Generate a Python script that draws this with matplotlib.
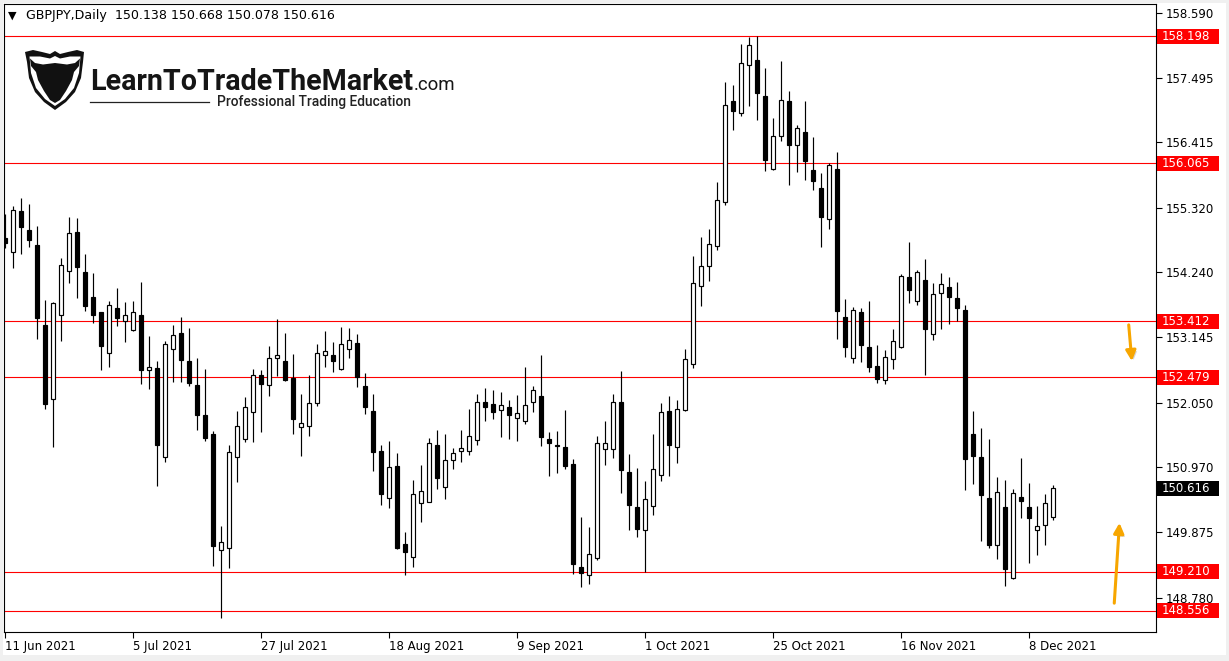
import matplotlib
matplotlib.use('Agg')
import matplotlib.pyplot as plt
from matplotlib.patches import Rectangle, Polygon, FancyArrowPatch
import matplotlib.patheffects as pe
import numpy as np

W, H, DPI = 1229, 661, 100

symbol = 'GBPJPY,Daily'
last_ohlc = [150.138, 150.668, 150.078, 150.616]

opens = [154.805, 154.571, 155.263, 154.945, 154.693, 153.351, 152.105, 153.514, 154.252, 154.906,
         154.240, 153.816, 153.564, 152.877, 153.637, 153.414, 153.263, 153.514, 152.592, 152.625,
         151.133, 152.944, 153.212, 152.743, 152.340, 151.837, 151.518, 149.573, 149.607, 151.133,
         151.435, 151.887, 152.508, 152.340, 152.803, 152.743, 152.463, 151.636, 151.653, 152.038,
         152.843, 152.843, 152.609, 152.944, 153.045, 152.328, 151.909, 151.238, 150.455, 150.987,
         149.674, 149.466, 150.361, 150.388, 151.334, 150.630, 151.082, 151.233, 151.233, 151.418,
         152.055, 152.022, 151.921, 151.971, 151.787, 151.737, 152.055, 152.156, 151.435, 151.334,
         151.300, 151.015, 149.288, 149.154, 149.439, 151.267, 151.267, 152.055, 150.881, 150.294,
         149.909, 150.311, 150.831, 151.904, 151.300, 151.921, 152.692, 154.000, 154.336, 154.671,
         155.409, 157.103, 156.902, 157.707, 157.790, 157.187, 155.973, 156.516, 157.103, 156.365,
         156.583, 155.946, 155.644, 155.124, 155.963, 153.481, 152.793, 153.564, 152.982, 152.664,
         152.434, 152.776, 152.978, 154.151, 153.749, 154.101, 153.195, 153.883, 153.984, 153.799,
         153.598, 151.518, 151.133, 150.445, 149.657, 150.294, 149.104, 150.462, 150.294, 149.909,
         149.992, 150.138]
highs = [155.213, 155.352, 155.481, 155.381, 155.012, 153.771, 153.732, 154.470, 155.158, 155.141,
         154.542, 154.224, 153.570, 153.749, 153.972, 153.737, 153.754, 154.073, 153.167, 152.748,
         153.083, 153.351, 153.481, 153.296, 152.793, 152.609, 151.574, 149.981, 151.334, 151.904,
         152.149, 152.609, 152.592, 152.994, 153.447, 153.212, 152.860, 152.189, 152.508, 153.028,
         153.246, 153.061, 153.313, 153.296, 153.200, 152.541, 152.194, 151.339, 151.406, 151.205,
         149.880, 150.752, 151.004, 151.456, 151.591, 151.524, 151.284, 151.591, 151.938, 152.189,
         152.290, 152.256, 152.223, 152.089, 152.178, 152.647, 152.328, 152.848, 151.552, 151.569,
         151.921, 151.099, 150.127, 149.959, 151.485, 151.737, 152.189, 152.575, 151.183, 150.948,
         150.730, 151.518, 152.038, 152.156, 152.089, 152.944, 154.504, 154.822, 154.956, 155.745,
         157.422, 157.371, 158.059, 158.181, 158.198, 157.656, 156.818, 157.774, 157.271, 156.700,
         157.103, 156.499, 155.896, 156.063, 156.248, 153.782, 153.648, 153.632, 153.754, 153.016,
         152.932, 153.284, 154.202, 154.738, 154.269, 154.453, 154.051, 154.218, 154.151, 154.068,
         153.682, 151.904, 151.619, 151.435, 150.797, 150.747, 150.596, 151.116, 150.697, 150.311,
         150.512, 150.668]
lows = [154.643, 154.312, 154.537, 154.665, 153.122, 151.948, 151.310, 153.088, 154.061, 153.809,
        153.591, 153.380, 152.602, 152.652, 153.340, 153.071, 153.250, 152.357, 152.283, 150.657,
        151.059, 152.401, 152.401, 152.334, 151.596, 151.411, 149.315, 148.443, 149.281, 150.724,
        151.394, 151.394, 151.562, 152.166, 152.496, 152.417, 151.529, 151.160, 151.495, 151.998,
        152.652, 152.568, 152.590, 152.803, 152.317, 151.864, 150.908, 150.338, 150.288, 149.590,
        149.164, 149.293, 150.053, 150.375, 150.606, 150.439, 150.942, 151.059, 151.176, 151.344,
        151.747, 151.780, 151.478, 151.445, 151.411, 151.696, 151.887, 151.317, 150.814, 150.864,
        150.932, 149.171, 148.953, 149.003, 149.406, 150.999, 151.116, 150.529, 149.909, 149.791,
        149.204, 150.160, 150.730, 150.814, 151.032, 151.905, 152.625, 153.675, 154.094, 154.604,
        155.359, 156.617, 156.851, 157.019, 156.784, 155.929, 155.956, 156.432, 155.694, 155.912,
        155.778, 155.610, 154.654, 154.956, 153.112, 152.810, 152.709, 152.739, 152.568, 152.384,
        152.367, 152.618, 152.965, 153.725, 153.692, 152.518, 153.095, 153.279, 153.363, 153.414,
        150.579, 150.680, 149.724, 149.607, 149.422, 148.969, 149.090, 150.110, 149.355, 149.489,
        149.657, 150.078]
closes = [154.732, 155.280, 155.000, 154.782, 153.474, 152.032, 153.715, 154.353, 154.889, 154.329,
          153.675, 153.524, 153.004, 153.682, 153.474, 153.514, 153.564, 152.602, 152.642, 151.344,
          153.028, 153.179, 152.770, 152.384, 151.847, 151.462, 149.650, 149.707, 151.217, 151.653,
          151.971, 152.508, 152.357, 152.793, 152.843, 152.434, 151.780, 151.703, 152.038, 152.877,
          152.910, 152.753, 153.028, 153.095, 152.474, 151.981, 151.227, 150.522, 150.970, 149.612,
          149.550, 150.512, 150.563, 151.368, 150.791, 151.082, 151.200, 151.284, 151.485, 152.055,
          151.981, 151.898, 152.005, 151.837, 151.871, 152.005, 152.256, 151.468, 151.368, 151.317,
          150.982, 149.338, 149.188, 149.506, 151.368, 151.368, 152.055, 150.915, 150.328, 149.925,
          150.428, 150.932, 151.887, 151.334, 151.938, 152.776, 154.051, 154.336, 154.705, 155.443,
          157.036, 156.935, 157.740, 158.042, 157.237, 156.124, 156.516, 157.120, 156.365, 156.650,
          156.097, 155.761, 155.158, 156.030, 153.581, 152.978, 153.598, 153.021, 152.652, 152.451,
          152.810, 153.078, 154.168, 153.943, 154.235, 153.279, 153.866, 154.034, 153.816, 153.632,
          151.109, 151.160, 150.496, 149.657, 150.546, 149.254, 150.529, 150.395, 150.110, 149.976,
          150.361, 150.616]

date_labels = ['11 Jun 2021', '5 Jul 2021', '27 Jul 2021', '18 Aug 2021', '9 Sep 2021',
               '1 Oct 2021', '25 Oct 2021', '16 Nov 2021', '8 Dec 2021']
date_label_bar = [0, 16, 32, 48, 64, 80, 96, 112, 128]
price_ticks = [158.590, 157.495, 156.415, 155.320, 154.240, 153.145, 152.050, 150.970, 149.875, 148.780]
level_lines = [158.198, 156.065, 153.412, 152.479, 149.210, 148.556]
current_price = 150.616

# ---------------------------------------------------------------- figure
fig = plt.figure(figsize=(W / DPI, H / DPI), dpi=DPI)
fig.patch.set_facecolor('white')

PL, PR, PT, PB = 4, 1156, 4, 632
ax = fig.add_axes([PL / W, 1 - PB / H, (PR - PL) / W, (PB - PT) / H])
ax.set_facecolor('white')
ax.set_xlim(-0.16, 143.84)
ax.set_ylim(148.203, 158.735)

# level lines
for lv in level_lines:
    ax.axhline(lv, color='#FF0000', lw=0.8, zorder=2)

# candles
for i in range(len(opens)):
    o, h, l, c = opens[i], highs[i], lows[i], closes[i]
    ax.vlines(i, l, h, color='black', lw=0.85, zorder=3)
    bull = c >= o
    bottom = min(o, c)
    height = max(abs(c - o), 0.01)
    ax.add_patch(Rectangle((i - 0.27, bottom), 0.54, height,
                           facecolor='white' if bull else 'black',
                           edgecolor='black', lw=0.85, zorder=4))

# axes styling
for s in ax.spines.values():
    s.set_color('black')
    s.set_linewidth(0.8)
ax.yaxis.tick_right()
ax.set_yticks(price_ticks)
ax.set_yticklabels([f'{v:.3f}' for v in price_ticks])
ax.tick_params(axis='y', direction='out', length=4, width=0.8, labelsize=8.5, pad=3, colors='black')
ax.set_xticks(date_label_bar)
ax.set_xticklabels(date_labels, ha='left')
ax.tick_params(axis='x', direction='out', length=4, width=0.8, labelsize=8.5, pad=2, colors='black')

# orange arrows
shadow = [pe.withSimplePatchShadow(offset=(1.5, -1.5), shadow_rgbFace='#888888', alpha=0.35)]
for (a, b) in [((140.4, 153.40), (140.85, 152.70)), ((138.6, 148.64), (139.3, 150.08))]:
    ax.add_patch(FancyArrowPatch(a, b, arrowstyle='-|>,head_length=0.6,head_width=0.3',
                                 mutation_scale=10, color='#F7A600', lw=2.2, zorder=8,
                                 path_effects=shadow))

# ---------------------------------------------------------------- overlay (header, logo, frame)
ov = fig.add_axes([0, 0, 1, 1], zorder=5)
ov.set_xlim(0, W)
ov.set_ylim(H, 0)
ov.axis('off')
ov.patch.set_alpha(0)

# window frame
for (x, y, w, h) in [(0, 0, W, 3), (0, 0, 3, H), (0, 655, W, 6), (1226, 0, 3, H)]:
    ov.add_patch(Rectangle((x, y), w, h, fc='#F0F0F0', ec='none'))

# price boxes on the right axis (positions taken from the price scale)
def price_to_px(p):
    return H - ax.transData.transform((0, p))[1]

for lv, col in [(v, '#FF0000') for v in level_lines] + [(current_price, 'black')]:
    yp = price_to_px(lv)
    ov.add_patch(Rectangle((1157, yp - 7.5), 62, 15, fc=col, ec='none', zorder=6))
    ov.text(1162, yp, f'{lv:.3f}', fontsize=8.5, color='white', va='center', ha='left', zorder=7)

header = f"{symbol}  " + " ".join(f"{v:.3f}" for v in last_ohlc)
ov.text(8, 16, '▼', fontsize=8, va='center', ha='left', color='black')
t_head = ov.text(26, 16, header, fontsize=8.5, va='center', ha='left', color='black')

# logo icon (bull head in a shield)
outer = [(25, 52), (33, 50), (42, 52), (50, 54), (55, 51), (60, 54), (68, 52), (77, 50), (84, 52),
         (83, 62), (81, 78), (75, 92), (66, 102), (55, 110), (44, 102), (35, 92), (29, 78), (27, 62)]
inner = [(29.5, 56.5), (40, 56.5), (50, 58.5), (55, 56), (60, 58.5), (70, 56.5), (80.5, 56.5),
         (79, 73), (74, 88), (65, 99), (55, 106), (45, 99), (36, 88), (31, 73)]
head = [(30, 58.5), (35, 63), (43, 64.5), (55, 63), (67, 64.5), (75, 63), (80, 58.5), (79, 66),
        (74, 72), (72, 80), (66, 91), (60, 100), (55, 103), (50, 100), (44, 91), (38, 80), (36, 72),
        (31, 66)]
ov.add_patch(Polygon(outer, closed=True, fc='#111111', ec='none'))
ov.add_patch(Polygon(inner, closed=True, fc='white', ec='none'))
ov.add_patch(Polygon(head, closed=True, fc='#111111', ec='none'))

t1 = ov.text(90, 90.5, 'LearnToTradeTheMarket', fontfamily='Roboto', fontweight='bold',
             fontsize=24, color='#151515', va='baseline', ha='left')
t2 = ov.text(414, 90.5, '.com', fontfamily='Roboto', fontsize=14, color='#151515',
             va='baseline', ha='left')
t3 = ov.text(217, 106, 'Professional Trading Education', fontfamily='Roboto', fontweight='medium',
             fontsize=9.5, color='#222222', va='baseline', ha='left')
ov.plot([90, 209], [101.5, 101.5], color='#222222', lw=0.9)

fig.canvas.draw()
r = fig.canvas.get_renderer()

def fit(t, target):
    bb = t.get_window_extent(renderer=r)
    t.set_fontsize(t.get_fontsize() * target / bb.width)

fit(t1, 323)
fit(t2, 42)
fit(t3, 195)
fit(t_head, 307)

fig.savefig('out.png', dpi=DPI, facecolor='white')
